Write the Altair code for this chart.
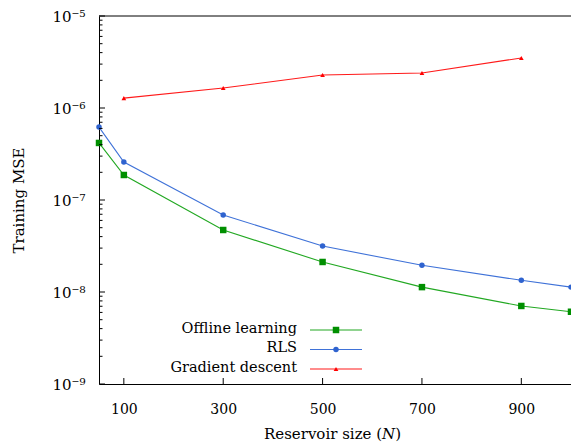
import altair as alt
import pandas as pd

# Reservoir sizes and training MSE per method
sizes = [50, 100, 300, 500, 700, 900, 1000]
offline_mse = [4.17e-7, 1.87e-7, 4.72e-8, 2.12e-8, 1.13e-8, 7.05e-9, 6.1e-9]
rls_mse = [6.2e-7, 2.59e-7, 6.87e-8, 3.16e-8, 1.95e-8, 1.34e-8, 1.13e-8]
gd_sizes = [100, 300, 500, 700, 900]
gd_mse = [1.28e-6, 1.65e-6, 2.28e-6, 2.4e-6, 3.5e-6]

series_names = ["Offline learning", "RLS", "Gradient descent"]
line_colors = ["#22a822", "#3f72d8", "#ff1a1a"]
marker_colors = ["#008f00", "#2f63cf", "#ff0000"]
marker_shapes = ["square", "circle", "triangle-up"]
marker_sizes = [42, 30, 22]

x_ticks = [100, 300, 500, 700, 900]
y_major = [1e-9, 1e-8, 1e-7, 1e-6, 1e-5]
y_minor = [m * 10.0 ** e for e in range(-9, -5) for m in range(2, 10)]

W, H = 472, 368
FONT = "DejaVu Serif"

sup = {-5: "⁻⁵", -6: "⁻⁶", -7: "⁻⁷", -8: "⁻⁸", -9: "⁻⁹"}
expo = "round(log(datum.value)/LN10)"
label_expr = "'10' + (" + " : ".join(
    f"{expo} == {k} ? '{v}'" for k, v in sup.items()) + " : '')"

xscale = alt.Scale(domain=[50, 1000], nice=False, zero=False)
yscale = alt.Scale(type="log", domain=[1e-9, 1e-5], nice=False)

xaxis = alt.Axis(values=x_ticks, ticks=False, domain=True, domainColor="black",
                 domainWidth=1, grid=False,
                 labelFontSize=14, labelPadding=18, labelFont=FONT,
                 labelColor="black",
                 title="Reservoir size (𝑁)", titleFont=FONT,
                 titleFontSize=15, titleFontWeight="normal", titleColor="black",
                 titleX=233, titleY=49, titleBaseline="middle")
yaxis = alt.Axis(values=y_major, ticks=False, domain=True, domainColor="black",
                 domainWidth=1, grid=False,
                 labelExpr=label_expr, labelFontSize=15, labelPadding=14,
                 labelFont=FONT, labelColor="black",
                 title="Training MSE", titleFont=FONT, titleColor="black",
                 titleFontSize=15, titleFontWeight="normal",
                 titleX=-81, titleY=184, titleBaseline="middle",
                 titleAlign="center")


def xenc(field):
    return alt.X(field, scale=xscale, axis=xaxis)


def yenc(field):
    return alt.Y(field, scale=yscale, axis=yaxis)


series = [
    (sizes, offline_mse),
    (sizes, rls_mse),
    (gd_sizes, gd_mse),
]

layers = []
for i, (xs, ys) in enumerate(series):
    df = pd.DataFrame({"size": xs, "mse": ys})
    base = alt.Chart(df).encode(x=xenc("size:Q"), y=yenc("mse:Q"))
    layers.append(base.mark_line(color=line_colors[i], strokeWidth=1.1))
    layers.append(base.mark_point(filled=True, opacity=1,
                                  shape=marker_shapes[i],
                                  size=marker_sizes[i],
                                  color=marker_colors[i]))

# Inward tick marks on the left and bottom axes
ytick_major = alt.Chart(pd.DataFrame({"mse": y_major})).mark_rule(
    color="black", strokeWidth=1).encode(
    y=yenc("mse:Q"), x=alt.value(0), x2=alt.value(6))
ytick_minor = alt.Chart(pd.DataFrame({"mse": y_minor})).mark_rule(
    color="black", strokeWidth=1).encode(
    y=yenc("mse:Q"), x=alt.value(0), x2=alt.value(3.5))
xtick = alt.Chart(pd.DataFrame({"size": x_ticks})).mark_rule(
    color="black", strokeWidth=1).encode(
    x=xenc("size:Q"), y=alt.value(H), y2=alt.value(H - 6))

# Top frame line
top_line = alt.Chart(pd.DataFrame({"k": [0]})).mark_rule(
    color="black", strokeWidth=1).encode(
    x=alt.value(0), x2=alt.value(W), y=alt.value(0))

# Legend drawn inside the plot: label on the left, line sample with marker on the right
legend_layers = []
row_y = [314, 333.5, 353]
one = pd.DataFrame({"k": [0]})
for i, name in enumerate(series_names):
    legend_layers.append(alt.Chart(one).mark_text(
        text=name, align="right", baseline="middle", font=FONT, fontSize=14.5,
        color="black").encode(x=alt.value(198), y=alt.value(row_y[i] - 1.5)))
    legend_layers.append(alt.Chart(one).mark_rule(
        color=line_colors[i], strokeWidth=1.1).encode(
        x=alt.value(211), x2=alt.value(263), y=alt.value(row_y[i])))
    legend_layers.append(alt.Chart(one).mark_point(
        filled=True, opacity=1, shape=marker_shapes[i], size=marker_sizes[i],
        color=marker_colors[i]).encode(x=alt.value(237), y=alt.value(row_y[i])))

chart = alt.layer(
    *layers, ytick_major, ytick_minor, xtick, top_line, *legend_layers
).properties(
    width=W, height=H,
    autosize=alt.AutoSizeParams(type="none"),
    padding={"left": 99, "top": 16, "right": 0, "bottom": 64},
    background="white",
).configure_view(
    stroke=None
).configure_text(font=FONT)

chart.save("out.html", embed_options={"renderer": "svg", "actions": False})
